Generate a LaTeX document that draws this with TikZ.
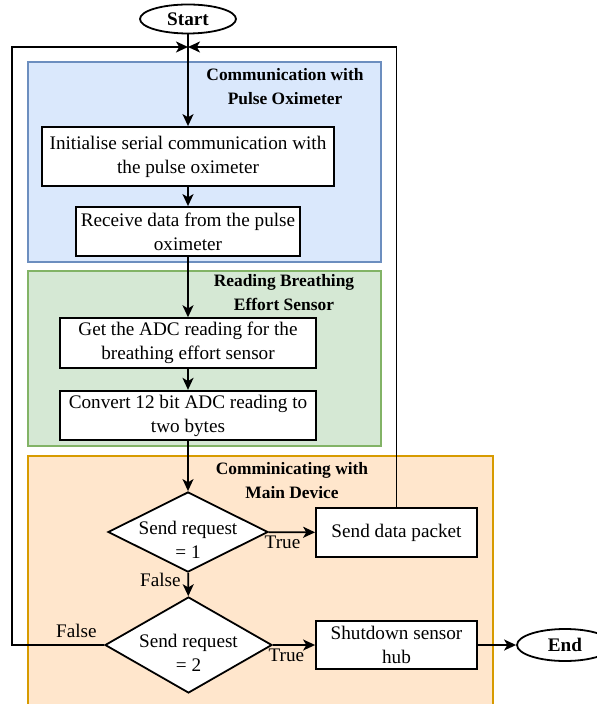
\documentclass[tikz,border=0pt]{standalone}
\usepackage{fontspec}
\setmainfont{Liberation Serif}
\usepackage{tikz}
\usetikzlibrary{arrows.meta}
\usetikzlibrary{shapes}

\definecolor{blueFill}{HTML}{DAE8FC}
\definecolor{blueLine}{HTML}{6C8EBF}
\definecolor{greenFill}{HTML}{D5E8D4}
\definecolor{greenLine}{HTML}{82B366}
\definecolor{orangeFill}{HTML}{FFE6CC}
\definecolor{orangeLine}{HTML}{D79B00}

\begin{document}
\begin{tikzpicture}[x=0.5pt, y=-0.5pt, line width=0.9pt,
        font=\fontsize{9.6}{12}\selectfont,
        box_style/.style={rectangle,draw=black,fill=white,align=center,inner sep=2pt},
        term_style/.style={ellipse,draw=black,fill=white,font=\fontsize{9.6}{12}\selectfont\bfseries,inner sep=0pt},
        dec_style/.style={diamond,draw=black,fill=white,inner sep=0pt},
        head_style/.style={align=center,font=\fontsize{8.7}{12}\selectfont\bfseries},
        group_blue/.style={draw=blueLine,fill=blueFill,line width=0.6pt},
        group_green/.style={draw=greenLine,fill=greenFill,line width=0.6pt},
        group_orange/.style={draw=orangeLine,fill=orangeFill,line width=0.6pt},
        edge_style/.style={draw=black,-{Stealth[length=6pt,width=5.5pt,inset=1.6pt]}}]

        \useasboundingbox (0,0) rectangle (597,704);

        % coloured groups
        \draw [group_blue] (28,62) rectangle (381,262);
        \draw [group_green] (28,271) rectangle (381,446);
        \draw [group_orange] (28,456) rectangle (493,712);

        \node [head_style] (blue_head) at (285,87) {Communication with\\Pulse Oximeter};
        \node [head_style] (green_head) at (284,293) {Reading Breathing\\Effort Sensor};
        \node [head_style] (orange_head) at (292,481) {Comminicating with\\Main Device};

        % steps
        \node [term_style,minimum width=48pt,minimum height=14.5pt] (start_node) at (188,19) {Start};

        \node [box_style,minimum width=146pt,minimum height=29.5pt] (init_box) at (188,156.5) {Initialise serial communication with\\the pulse oximeter};

        \node [box_style,minimum width=112pt,minimum height=24.5pt] (recv_box) at (188,231.5) {Receive data from the pulse\\oximeter};

        \node [box_style,minimum width=128pt,minimum height=24pt] (adc_box) at (188,343) {Get the ADC reading for the\\breathing effort sensor};

        \node [box_style,minimum width=128pt,minimum height=23.5pt] (conv_box) at (188,415.5) {Convert 12 bit ADC reading to\\two bytes};

        \node [dec_style,minimum width=80pt,minimum height=40pt,
            label={[align=center,yshift=-4pt]center:Send request\\= 1}] (req1_dec) at (188,532) {};

        \node [box_style,minimum width=80.5pt,minimum height=24.5pt] (packet_box) at (396.5,532.5) {Send data packet};

        \node [dec_style,minimum width=83.5pt,minimum height=48pt,
            label={[align=center,yshift=-4pt]center:Send request\\= 2}] (req2_dec) at (188.5,645) {};

        \node [box_style,minimum width=80.5pt,minimum height=24pt] (shutdown_box) at (396.5,645) {Shutdown sensor\\hub};

        \node [term_style,minimum width=48pt,minimum height=16pt] (end_node) at (565,645) {End};

        \coordinate (loop_top) at (188,47);
        \coordinate (loop_left) at (12,47);

        % flow
        \draw [edge_style] (start_node) edge (init_box);

        \draw [edge_style] (init_box) edge (recv_box);

        \draw [edge_style] (recv_box) edge (adc_box);

        \draw [edge_style] (adc_box) edge (conv_box);

        \draw [edge_style] (conv_box) edge (req1_dec);

        \draw [edge_style] (req1_dec) edge node[below,pos=0.3,inner sep=1.5pt]{True} (packet_box);

        \draw [edge_style] (req1_dec) edge node[left,pos=0.3]{False} (req2_dec);

        \draw [edge_style] (req2_dec) edge node[below,pos=0.32,inner sep=1.5pt]{True} (shutdown_box);

        \draw [edge_style] (shutdown_box) edge (end_node);

        \draw [edge_style] (packet_box.north) |- (loop_top);

        \draw [edge_style] (req2_dec.west) -| node[above,pos=0.15]{False} (loop_left) -- (loop_top);

        \end{tikzpicture}
\end{document}
